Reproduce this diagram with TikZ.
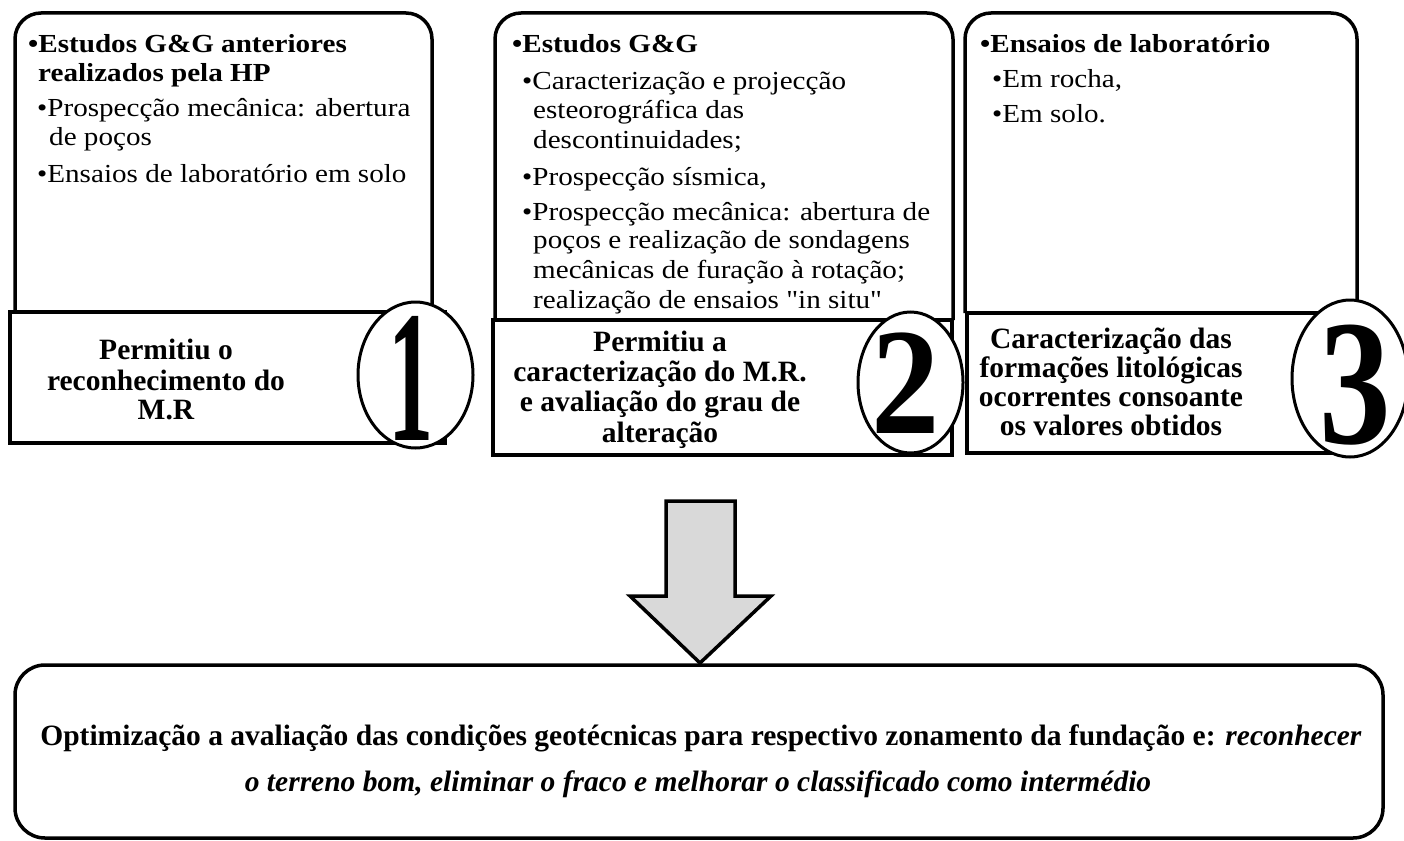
\documentclass[tikz,border=0pt]{standalone}
\usepackage{graphicx}
\usepackage{fontspec}
\setmainfont{Liberation Serif}
\newfontfamily\widefont[FakeStretch=1.12]{Liberation Serif}
\usetikzlibrary{shapes.geometric}
\begin{document}
\begin{tikzpicture}[x=1pt,y=-1pt,
  panel/.style={line width=3.5pt,rounded corners=26pt},
  footbox/.style={line width=3.5pt,fill=white},
  oval/.style={draw,ellipse,line width=3pt,fill=white,inner sep=0pt},
  digit/.style={anchor=base,inner sep=0pt},
  toptxt/.style={anchor=base west,inner sep=0pt,font=\widefont\fontsize{26}{28}\selectfont},
  headtxt/.style={anchor=base west,inner sep=0pt,font=\widefont\bfseries\fontsize{26}{28}\selectfont},
  sumtxt/.style={anchor=base,inner sep=0pt,font=\bfseries\fontsize{29.5}{30}\selectfont},
  endtxt/.style={anchor=base,inner sep=0pt,font=\bfseries\fontsize{29.5}{30}\selectfont}]
\useasboundingbox (0,0) rectangle (1404,840);
% panel 1
\draw [panel] (15,313) -- (15,13) -- (432,13) -- (432,313);
\draw [footbox] (10,312) rectangle (445,443);
\node [oval,minimum width=115pt,minimum height=146pt] (oval1) at (415.5,375) {};
\node [digit,font=\bfseries\fontsize{188}{188}\selectfont] (num1) at (411,440) {\scalebox{0.48}[1]{1}};
\node [headtxt] (a1) at (28,53) {•Estudos G\&G anteriores};
\node [headtxt] (a2) at (38,82) {realizados pela HP};
\node [toptxt] (a3) at (37,117) {•Prospecção mecânica: abertura};
\node [toptxt] (a4) at (49,145) {de poços};
\node [toptxt] (a5) at (37,182) {•Ensaios de laboratório em solo};
\node [sumtxt] (s11) at (166,359) {Permitiu o};
\node [sumtxt] (s12) at (166,390) {reconhecimento do};
\node [sumtxt] (s13) at (166,419) {M.R};
% panel 2
\draw [panel] (495,320) -- (495,13) -- (953,13) -- (953,320);
\draw [footbox] (493,320) rectangle (952,455);
\node [oval,minimum width=105pt,minimum height=141pt] (oval2) at (910.5,382.5) {};
\node [digit,font=\bfseries\fontsize{152}{152}\selectfont] (num2) at (906,433) {\scalebox{0.9}[1]{2}};
\node [headtxt] (b1) at (512,53) {•Estudos G\&G};
\node [toptxt] (b2) at (522,90) {•Caracterização e projecção};
\node [toptxt] (b3) at (533,118) {esteorográfica das};
\node [toptxt] (b4) at (533,148) {descontinuidades;};
\node [toptxt] (b5) at (522,185) {•Prospecção sísmica,};
\node [toptxt] (b6) at (522,220) {•Prospecção mecânica: abertura de};
\node [toptxt] (b7) at (533,248) {poços e realização de sondagens};
\node [toptxt] (b8) at (533,278) {mecânicas de furação à rotação;};
\node [toptxt] (b9) at (533,308) {realização de ensaios "in situ"};
\node [sumtxt] (s21) at (660,351) {Permitiu a};
\node [sumtxt] (s22) at (660,381) {caracterização do M.R.};
\node [sumtxt] (s23) at (660,411) {e avaliação do grau de};
\node [sumtxt] (s24) at (660,442) {alteração};
% panel 3
\draw [panel] (965,313) -- (965,13) -- (1357,13) -- (1357,313);
\draw [footbox] (967,313) rectangle (1362,453);
\node [oval,minimum width=116pt,minimum height=157pt] (oval3) at (1350,378.5) {};
\node [digit,font=\bfseries\fontsize{179}{179}\selectfont] (num3) at (1355,443) {\scalebox{0.8}[1]{3}};
\node [headtxt] (c1) at (980,53) {•Ensaios de laboratório};
\node [toptxt] (c2) at (992,88) {•Em rocha,};
\node [toptxt] (c3) at (992,123) {•Em solo.};
\node [sumtxt] (s31) at (1111,348) {Caracterização das};
\node [sumtxt] (s32) at (1111,377) {formações litológicas};
\node [sumtxt] (s33) at (1111,406) {ocorrentes consoante};
\node [sumtxt] (s34) at (1111,435) {os valores obtidos};
% arrow and result
\draw [line width=3.5pt,fill=black!15,line join=miter] (666,501) -- (735,501) -- (735,596) -- (771,596) -- (700,663) -- (630,596) -- (666,596) -- cycle;
\draw [line width=3.5pt,rounded corners=30pt] (15,665) rectangle (1383,838);
\node [endtxt] (r1) at (701,745) {Optimização a avaliação das condições geotécnicas para respectivo zonamento da fundação e: \textit{reconhecer}};
\node [endtxt] (r2) at (698,791) {\textit{o terreno bom, eliminar o fraco e melhorar o classificado como intermédio}};
\end{tikzpicture}
\end{document}
